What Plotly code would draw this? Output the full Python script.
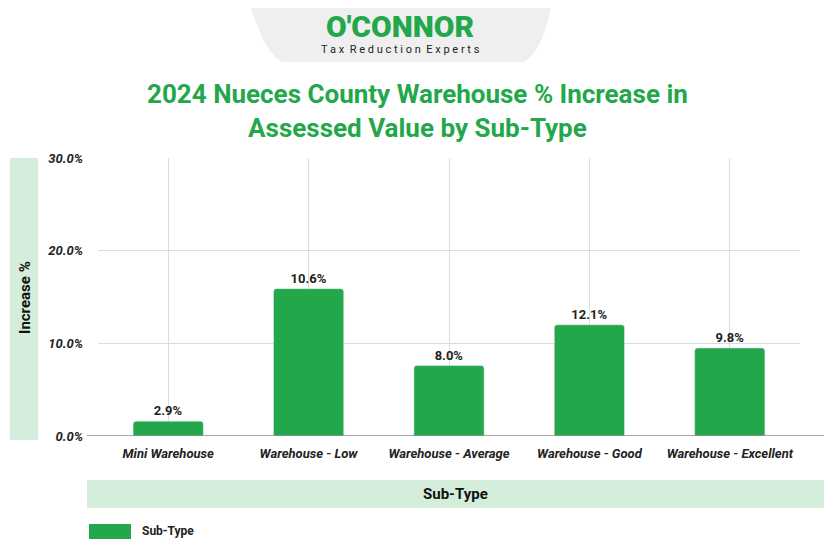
import plotly.graph_objects as go

categories = ["Mini Warehouse", "Warehouse - Low", "Warehouse - Average", "Warehouse - Good", "Warehouse - Excellent"]
bar_values = [1.6, 15.9, 7.6, 12.0, 9.5]
bar_labels = ["2.9%", "10.6%", "8.0%", "12.1%", "9.8%"]
y_ticks = [0, 10, 20, 30]
y_tick_labels = ["0.0%", "10.0%", "20.0%", "30.0%"]

O = 8  # page body offset
W, H = 834 - O, 550 - O
GREEN = "#22a84a"
L, R, T, B = 98 - O, 34, 158 - O, 114

def px(x):
    return (x - O - L) / (W - L - R)
def py(y):
    return (H - B - (y - O)) / (H - T - B)

fig = go.Figure(go.Bar(
    x=categories, y=bar_values, text=[f"<b>{t}</b>" for t in bar_labels], textposition="outside",
    textfont=dict(family="Roboto", size=13, color="#222"),
    marker=dict(color=GREEN, cornerradius=3), width=0.5, cliponaxis=False,
    name="Sub-Type", showlegend=False,
))

shapes = [
    dict(type="path", xref="paper", yref="paper", layer="below",
         path=f"M {px(245)} {py(-10)} L {px(248)} {py(0)} C {px(258)} {py(30)}, {px(268)} {py(55)}, {px(282)} {py(62)} "
              f"L {px(523)} {py(62)} C {px(538)} {py(55)}, {px(548)} {py(30)}, {px(552)} {py(0)} L {px(555)} {py(-10)} Z",
         fillcolor="#efefef", line=dict(width=0)),
    dict(type="rect", xref="paper", yref="paper", x0=px(10), x1=px(38), y0=py(158), y1=py(440),
         fillcolor="#d5eedb", line=dict(width=0), layer="below"),
    dict(type="rect", xref="paper", yref="paper", x0=px(87), x1=px(824), y0=py(480), y1=py(508),
         fillcolor="#d5eedb", line=dict(width=0), layer="below"),
    dict(type="rect", xref="paper", yref="paper", x0=px(89), x1=px(131), y0=py(524), y1=py(539),
         fillcolor=GREEN, line=dict(width=0)),
    dict(type="line", xref="paper", yref="y", x0=px(87), x1=px(824), y0=0, y1=0,
         line=dict(color="#888", width=1.5)),
]
anns = [
    dict(text="O'CONNOR", x=px(400), y=py(26), font=dict(family="Roboto", size=30, color=GREEN, weight=900)),
    dict(text="T a x  R e d u c t i o n  E x p e r t s", x=px(400), y=py(50), font=dict(family="Roboto", size=11, color="#222")),
    dict(text="<b>2024 Nueces County Warehouse % Increase in<br>Assessed Value by Sub-Type</b>", x=px(417), y=py(111),
         font=dict(family="Roboto", size=26, color=GREEN)),
    dict(text="<b>Increase %</b>", x=px(25), y=py(298), textangle=-90, font=dict(family="Roboto", size=15, color="#111")),
    dict(text="<b>Sub-Type</b>", x=px(455), y=py(494), font=dict(family="Roboto", size=15, color="#111")),
    dict(text="<b>Sub-Type</b>", x=px(140), y=py(531), xanchor="left", font=dict(family="Roboto", size=12, color="#222")),
]
for a in anns:
    a.update(xref="paper", yref="paper", showarrow=False)
    a.setdefault("xanchor", "center")
    a.setdefault("yanchor", "middle")

fig.update_layout(
    width=W, height=H, margin=dict(l=L, r=R, t=T, b=B),
    plot_bgcolor="white", paper_bgcolor="white",
    shapes=shapes, annotations=anns,
    yaxis=dict(range=[0, 30], tickvals=y_ticks, ticktext=y_tick_labels, gridcolor="#dcdcdc",
               tickfont=dict(family="Roboto", size=13, color="#222", style="italic", weight="bold"),
               zeroline=False, ticklabelstandoff=14),
    xaxis=dict(showgrid=True, gridcolor="#dcdcdc", ticklabelstandoff=8,
               tickfont=dict(family="Roboto", size=13, color="#222", style="italic", weight="bold")),
)
fig.write_html("out.html")
